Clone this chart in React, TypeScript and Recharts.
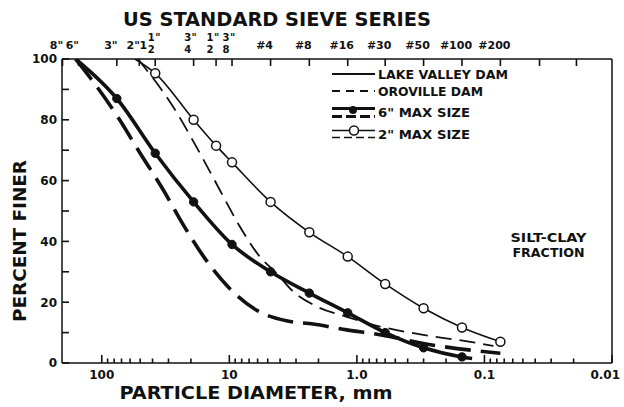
import React from 'react';
import { LineChart, Line, XAxis, YAxis, ReferenceLine } from 'recharts';

const FONT = '"DejaVu Sans", Arial, sans-serif';
const INK = '#111';

// particle diameter (mm) / percent finer
const lakeValley6Size = [160, 76.2, 38.1, 19.05, 9.525, 4.75, 2.36, 1.18, 0.6, 0.3, 0.15, 0.125];
const lakeValley6Pct = [100, 87, 69, 53, 39, 30, 23, 16.5, 10, 5, 2, 1.5];

const oroville6Size = [160, 124, 75, 50, 33, 23, 15.6, 10.2, 6.2, 3.5, 2.2, 1.2, 0.66, 0.28, 0.075];
const oroville6Pct = [100, 94, 81, 69, 57, 45.5, 34.5, 25, 17.5, 13.8, 12.8, 10.9, 9.3, 6.2, 3.2];

const lakeValley2Size = [55, 38.1, 19.05, 12.7, 9.525, 4.75, 2.36, 1.18, 0.6, 0.3, 0.15, 0.075];
const lakeValley2Pct = [100, 95.3, 80, 71.5, 66, 53, 43, 35, 26, 18, 11.7, 7];

const oroville2Size = [52, 27.6, 17, 11.9, 8.3, 5.77, 4.26, 3.16, 2.04, 1.2, 0.66, 0.36, 0.2, 0.14, 0.085];
const oroville2Pct = [100, 84.3, 69, 57, 45, 35, 29.5, 23.5, 18.5, 15.2, 12, 9.8, 8.1, 7.2, 5.6];

// sieve openings (mm) for the top scale
const sieveSizes = [203.2, 152.4, 76.2, 50.8, 38.1, 19.05, 12.7, 9.525, 4.75, 2.36, 1.18, 0.6, 0.3, 0.15, 0.075, 0.037, 0.019];
const sieveLabels = ['8"', '6"', '3"', '2"', '1 1/2"', '3/4"', '1/2"', '3/8"', '#4', '#8', '#16', '#30', '#50', '#100', '#200', '', ''];

const decadeTicks = [100, 10, 1, 0.1, 0.01];
const decadeLabels = ['100', '10', '1.0', '0.1', '0.01'];
const minorSteps = [2, 3, 4, 5, 6, 7, 8, 9];
const bottomTicks = [
  ...decadeTicks,
  ...decadeTicks.slice(1).flatMap((d) => minorSteps.map((m) => d * m)),
];

const percentTicks = [0, 10, 20, 30, 40, 50, 60, 70, 80, 90, 100];

const toRows = (sizes: number[], pcts: number[]) => sizes.map((d, i) => ({ d, p: pcts[i] }));
const lv6 = toRows(lakeValley6Size, lakeValley6Pct);
const or6 = toRows(oroville6Size, oroville6Pct);
const lv2 = toRows(lakeValley2Size, lakeValley2Pct);
const or2 = toRows(oroville2Size, oroville2Pct);

const BottomTick = (props: any) => {
  const { x, y, payload } = props;
  const i = decadeTicks.indexOf(payload.value);
  const last = i === decadeTicks.length - 1;
  return (
    <g>
      <line x1={x} x2={x} y1={y} y2={y - (i >= 0 ? 8 : 4.5)} stroke={INK} strokeWidth={1.6} />
      {i >= 0 && (
        <text
          x={last ? x + 8 : x}
          y={y + 15.5}
          textAnchor={last ? 'end' : 'middle'}
          fontFamily={FONT}
          fontWeight="bold"
          fontSize={12}
          fill={INK}
        >
          {decadeLabels[i]}
        </text>
      )}
    </g>
  );
};

const TopTick = (props: any) => {
  const { x, y, payload } = props;
  const label = sieveLabels[sieveSizes.indexOf(payload.value)] || '';
  const cx = x - 6;
  let content: React.ReactNode = null;
  if (label.includes('/')) {
    const parts = label.replace('"', '').split(' ');
    const whole = parts.length > 1 ? parts[0] : '';
    const [num, den] = parts[parts.length - 1].split('/');
    const fx = whole ? cx + 2 : cx;
    content = (
      <g fontFamily={FONT} fontWeight="bold" fill={INK}>
        {whole && (
          <text x={cx - 6} y={y - 10.5} fontSize={11} textAnchor="middle">{whole}</text>
        )}
        <text x={fx} y={y - 18.5} fontSize={10} textAnchor="middle">{num}</text>
        <text x={fx + 4} y={y - 18.5} fontSize={10}>"</text>
        <text x={fx} y={y - 6.5} fontSize={10} textAnchor="middle">{den}</text>
      </g>
    );
  } else if (label) {
    content = (
      <text x={cx} y={y - 10.5} fontSize={11} fontFamily={FONT} fontWeight="bold" fill={INK} textAnchor="middle">
        {label}
      </text>
    );
  }
  return (
    <g>
      <line x1={x} x2={x} y1={y} y2={y + 7} stroke={INK} strokeWidth={1.6} />
      {content}
    </g>
  );
};

const LeftTick = (props: any) => {
  const { x, y, payload } = props;
  return (
    <g>
      <line x1={x} x2={x + 7} y1={y} y2={y} stroke={INK} strokeWidth={1.6} />
      {payload.value % 20 === 0 && (
        <text x={x - 5} y={y + 4.4} textAnchor="end" fontFamily={FONT} fontWeight="bold" fontSize={12} fill={INK}>
          {payload.value}
        </text>
      )}
    </g>
  );
};

const filledDot = (props: any) => {
  const { cx, cy, index } = props;
  if (index === 0 || index === lv6.length - 1) return <g key={index} />;
  return <circle key={index} cx={cx} cy={cy} r={4.2} fill={INK} stroke={INK} />;
};

const openDot = (props: any) => {
  const { cx, cy, index } = props;
  if (index === 0) return <g key={index} />;
  return <circle key={index} cx={cx} cy={cy} r={4.5} fill="#fff" stroke={INK} strokeWidth={1.5} />;
};

const Overlay = () => (
  <svg
    width={624}
    height={407}
    style={{ position: 'absolute', left: 0, top: 0, pointerEvents: 'none' }}
    fontFamily={FONT}
    fontWeight="bold"
    fill={INK}
  >
    <text x={277} y={26} textAnchor="middle" fontSize={19} textLength={308} lengthAdjust="spacingAndGlyphs">
      US STANDARD SIEVE SERIES
    </text>
    <text transform="translate(25.5,241) rotate(-90)" textAnchor="middle" fontSize={17} textLength={162} lengthAdjust="spacingAndGlyphs">
      PERCENT FINER
    </text>
    <text x={256} y={399} textAnchor="middle" fontSize={17} textLength={273} lengthAdjust="spacingAndGlyphs">
      PARTICLE DIAMETER, mm
    </text>

    <line x1={332} x2={375} y1={74} y2={74} stroke={INK} strokeWidth={2} />
    <text x={378} y={79} fontSize={13} textLength={130} lengthAdjust="spacingAndGlyphs">LAKE VALLEY DAM</text>

    <line x1={332} x2={375} y1={91} y2={91} stroke={INK} strokeWidth={2} strokeDasharray="8 6" />
    <text x={378} y={96} fontSize={13} textLength={105} lengthAdjust="spacingAndGlyphs">OROVILLE DAM</text>

    <line x1={332} x2={375} y1={108.5} y2={108.5} stroke={INK} strokeWidth={3} />
    <line x1={332} x2={375} y1={116.5} y2={116.5} stroke={INK} strokeWidth={3} strokeDasharray="10 4" />
    <circle cx={353} cy={110} r={4} fill={INK} />
    <text x={378} y={117} fontSize={13} textLength={92} lengthAdjust="spacingAndGlyphs">6" MAX SIZE</text>

    <line x1={332} x2={375} y1={130.5} y2={130.5} stroke={INK} strokeWidth={1.5} />
    <line x1={332} x2={375} y1={137.5} y2={137.5} stroke={INK} strokeWidth={1.5} strokeDasharray="8 4" />
    <circle cx={354} cy={130.5} r={4.5} fill="#fff" stroke={INK} strokeWidth={1.5} />
    <text x={378} y={139} fontSize={13} textLength={92} lengthAdjust="spacingAndGlyphs">2" MAX SIZE</text>

    <text x={548.5} y={241.5} textAnchor="middle" fontSize={12} textLength={76} lengthAdjust="spacingAndGlyphs">SILT-CLAY</text>
    <text x={548.5} y={256.5} textAnchor="middle" fontSize={12} textLength={72} lengthAdjust="spacingAndGlyphs">FRACTION</text>
  </svg>
);

export default function App() {
  const domain: [number, number] = [0.01, 205];
  return (
    <div style={{ position: 'absolute', left: 0, top: 0, width: 624, height: 407, background: '#fff' }}>
      <LineChart width={624} height={407} margin={{ top: 0, right: 12, bottom: 0, left: 0 }}>
        <XAxis
          xAxisId="bottom"
          dataKey="d"
          type="number"
          scale="log"
          domain={domain}
          allowDataOverflow
          reversed
          orientation="bottom"
          height={44}
          ticks={bottomTicks}
          interval={0}
          tick={<BottomTick />}
          tickLine={false}
          tickSize={0}
          tickMargin={0}
          axisLine={{ stroke: INK, strokeWidth: 1.5 }}
        />
        <XAxis
          xAxisId="top"
          dataKey="d"
          type="number"
          scale="log"
          domain={domain}
          allowDataOverflow
          reversed
          orientation="top"
          height={59}
          ticks={sieveSizes}
          interval={0}
          tick={<TopTick />}
          tickLine={false}
          tickSize={0}
          tickMargin={0}
          axisLine={{ stroke: INK, strokeWidth: 1.5 }}
        />
        <YAxis
          dataKey="p"
          type="number"
          domain={[0, 100]}
          allowDataOverflow
          width={62}
          ticks={percentTicks}
          interval={0}
          tick={<LeftTick />}
          tickLine={false}
          tickSize={0}
          tickMargin={0}
          axisLine={{ stroke: INK, strokeWidth: 1.5 }}
        />
        <ReferenceLine xAxisId="bottom" x={0.01} stroke={INK} strokeWidth={1.5} />

        <Line xAxisId="top" data={or2} dataKey="p" type="monotone" stroke={INK} strokeWidth={1.8}
          strokeDasharray="16 8" dot={false} activeDot={false} isAnimationActive={false} />
        <Line xAxisId="top" data={or6} dataKey="p" type="monotone" stroke={INK} strokeWidth={3.6}
          strokeDasharray="26 10" dot={false} activeDot={false} isAnimationActive={false} />
        <Line xAxisId="bottom" data={lv2} dataKey="p" type="monotone" stroke={INK} strokeWidth={1.6}
          dot={openDot} activeDot={false} isAnimationActive={false} />
        <Line xAxisId="bottom" data={lv6} dataKey="p" type="monotone" stroke={INK} strokeWidth={3.6}
          dot={filledDot} activeDot={false} isAnimationActive={false} />
      </LineChart>
      <Overlay />
    </div>
  );
}
